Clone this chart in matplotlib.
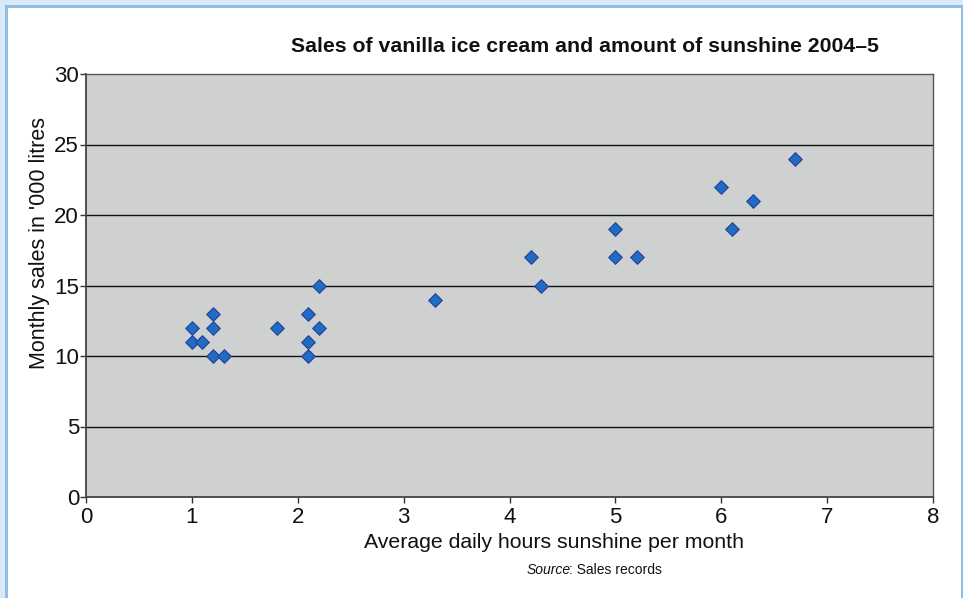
import matplotlib
matplotlib.use("Agg")
import matplotlib.pyplot as plt
from matplotlib.patches import Rectangle

plt.rcParams['font.family'] = ['Liberation Sans', 'DejaVu Sans']

# Average daily hours of sunshine per month and monthly sales ('000 litres)
sunshine = [1.0, 1.0, 1.1, 1.2, 1.2, 1.2, 1.3, 1.8, 2.1, 2.1, 2.1, 2.2, 2.2,
            3.3, 4.2, 4.3, 5.0, 5.0, 5.2, 6.0, 6.1, 6.3, 6.7]
sales = [12, 11, 11, 13, 12, 10, 10, 12, 13, 11, 10, 15, 12,
         14, 17, 15, 19, 17, 17, 22, 19, 21, 24]

x_ticks = [0, 1, 2, 3, 4, 5, 6, 7, 8]
y_ticks = [0, 5, 10, 15, 20, 25, 30]

title = "Sales of vanilla ice cream and amount of sunshine 2004\u20135"
x_label = "Average daily hours sunshine per month"
y_label = "Monthly sales in '000 litres"

W, H = 963, 598
fig = plt.figure(figsize=(W / 100, H / 100), dpi=100)
fig.patch.set_facecolor('white')

# Page frame: pale blue band with a stronger blue rule inside it
band = '#dbe9f6'
rule = '#8dbde8'
fig.add_artist(Rectangle((0, 0), 1, 1, transform=fig.transFigure,
                         facecolor=band, edgecolor='none', zorder=-10))
fig.add_artist(Rectangle((5 / W, 0), 1 - 5 / W, (H - 5) / H,
                         transform=fig.transFigure, facecolor=rule,
                         edgecolor='none', zorder=-9))
fig.add_artist(Rectangle((8 / W, 0), (961 - 8) / W, (H - 8) / H,
                         transform=fig.transFigure, facecolor='white',
                         edgecolor='none', zorder=-8))

left, right, top, bottom = 86, 933, 74, 497
ax = fig.add_axes([left / W, 1 - bottom / H, (right - left) / W, (bottom - top) / H])
ax.set_facecolor('#cfd1d0')

ax.set_xlim(0, 8)
ax.set_ylim(0, 30)
ax.set_xticks(x_ticks)
ax.set_yticks(y_ticks)
ax.tick_params(axis='both', direction='out', length=4, width=1, color='#333333',
               labelsize=16, labelcolor='#111111')
ax.tick_params(axis='x', pad=3)
ax.tick_params(axis='y', pad=1)

for y in y_ticks[1:-1]:
    ax.axhline(y, color='#111111', linewidth=1.0, zorder=1)

for side in ['left', 'bottom']:
    ax.spines[side].set_color('#444444')
    ax.spines[side].set_linewidth(1.3)
for side in ['top', 'right']:
    ax.spines[side].set_color('#555555')
    ax.spines[side].set_linewidth(1.0)

ax.scatter(sunshine, sales, marker='D', s=48, facecolor='#1f6cc4',
           edgecolor='#2b3f94', linewidth=0.8, zorder=3, clip_on=False)

fig.text(554 / W, 1 - 543 / H, x_label, fontsize=15.3, ha='center', va='center',
         color='#111111')
fig.text(585 / W, 1 - 46 / H, title, fontsize=15.3, fontweight='bold',
         ha='center', va='center', color='#111111')
fig.text(40 / W, 1 - 243 / H, y_label, fontsize=15.5, rotation=90,
         ha='center', va='center', color='#111111')

fig.text(571 / W, 1 - 570 / H, "Source", fontsize=10, style='italic',
         ha='right', va='center', color='#111111')
fig.text(569 / W, 1 - 570 / H, ": Sales records", fontsize=10,
         ha='left', va='center', color='#111111')

fig.savefig('out.png', dpi=100)
